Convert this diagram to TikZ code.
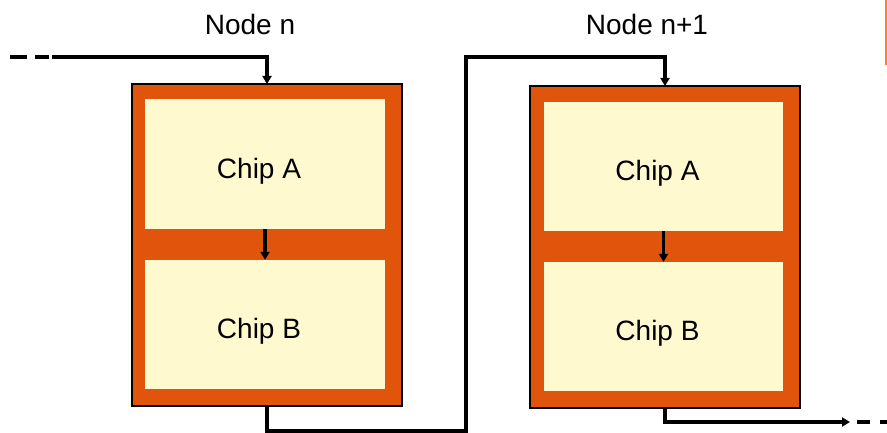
\documentclass[tikz,border=0pt]{standalone}
\usepackage{fontspec}
\setmainfont{Liberation Sans}
\usetikzlibrary{arrows.meta}
\definecolor{boardorange}{RGB}{224,84,12}
\definecolor{chipyellow}{RGB}{255,249,208}
\definecolor{edgeorange}{RGB}{255,127,39}
\begin{document}
\begin{tikzpicture}[x=1pt,y=-1pt,
  board/.style={draw=black,line width=2pt,fill=boardorange},
  chip/.style={fill=chipyellow,inner sep=0pt},
  wire/.style={draw=black,line width=3.3pt},
  arr/.style={wire,-{Triangle[length=8pt,width=9pt]}},
  label/.style={font=\fontsize{28}{32}\selectfont},
  chiptext/.style={label,xshift=-6pt,yshift=-7pt}]
\useasboundingbox (0,0) rectangle (887,433);

% node n
\path[board] (132,84) rectangle (402,406);
\node[chip,minimum width=240pt,minimum height=130pt] (a1) at (265,164) {};
\node[chip,minimum width=240pt,minimum height=129pt] (b1) at (265,324.5) {};
\node[chiptext] (ta1) at (a1.center) {Chip A};
\node[chiptext] (tb1) at (b1.center) {Chip B};
\coordinate (n1top) at (267,84);
\coordinate (n1bot) at (267,406);
\node[label] (l1) at (250,24) {Node n};

% node n+1
\path[board] (530,86) rectangle (800,408);
\node[chip,minimum width=239pt,minimum height=129pt] (a2) at (663.5,166.5) {};
\node[chip,minimum width=239pt,minimum height=129pt] (b2) at (663.5,326.5) {};
\node[chiptext] (ta2) at (a2.center) {Chip A};
\node[chiptext] (tb2) at (b2.center) {Chip B};
\coordinate (n2top) at (665,86);
\coordinate (n2bot) at (665,408);
\node[label] (l2) at (647,24) {Node n+1};

% chip-to-chip links
\draw[arr] (a1.south) -- (b1.north);
\draw[arr] (a2.south) -- (b2.north);

% incoming link to node n
\coordinate (inS) at (52,57);
\draw[arr] (inS) -| (n1top);
\draw[wire] (10,57) -- (27,57);
\draw[wire] (35,57) -- (49,57);

% link from node n to node n+1
\coordinate (bend1) at (466,431);
\coordinate (bend2) at (466,57);
\draw[arr] (n1bot) |- (bend1) -- (bend2) -| (n2top);

% outgoing link from node n+1
\coordinate (outE) at (850,422);
\draw[arr] (n2bot) |- (outE);
\draw[wire] (857,422) -- (870,422);
\draw[wire] (880,422) -- (887,422);

% thin edge mark at the right border
\draw[edgeorange,line width=1.5pt] (886,0) -- (886,65);
\end{tikzpicture}
\end{document}
